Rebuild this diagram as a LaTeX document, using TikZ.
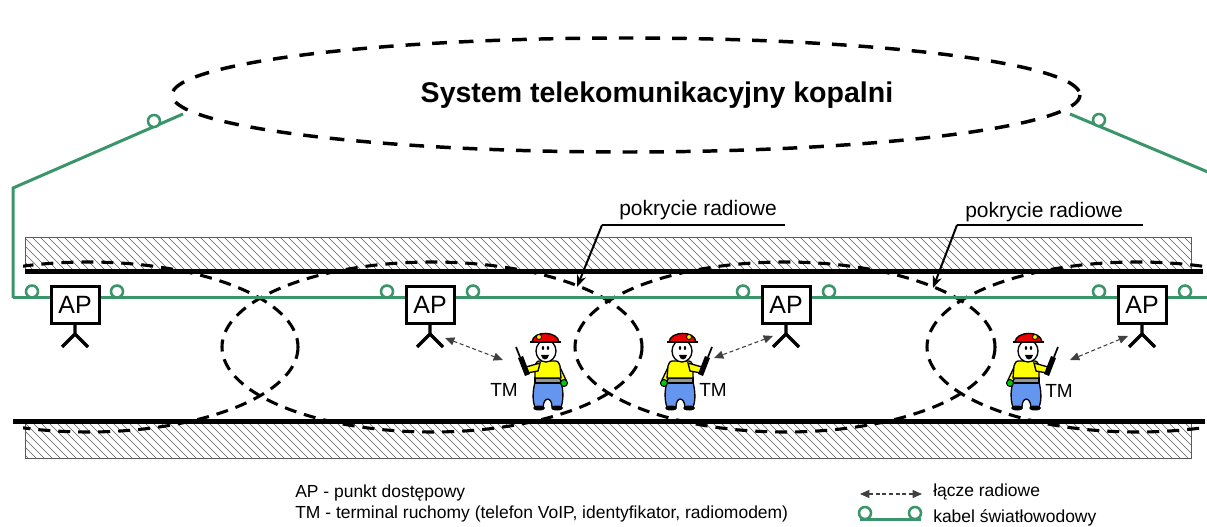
\documentclass[tikz,border=0pt]{standalone}
\usepackage{fontspec}
\setmainfont{Liberation Sans}
\usetikzlibrary{arrows.meta}
\definecolor{cablegreen}{RGB}{58,150,106}
\definecolor{helmetred}{RGB}{235,0,0}
\definecolor{shirtyellow}{RGB}{255,255,0}
\definecolor{pantsblue}{RGB}{100,150,240}
\definecolor{beltgrey}{RGB}{150,150,150}
\definecolor{glovegreen}{RGB}{0,200,0}
\definecolor{hatchgrey}{RGB}{90,90,90}
\tikzset{
  cable/.style={draw=cablegreen, line width=2.25pt},
  splice/.style={draw=cablegreen, fill=white, line width=1.9pt},
  wall/.style={line width=3.75pt},
  hatch/.style={draw=hatchgrey, line width=0.45pt},
  bandframe/.style={draw=hatchgrey, line width=0.6pt},
  coverage/.style={line width=2.3pt, dash pattern=on 9pt off 6pt},
  sysline/.style={line width=2.6pt, dash pattern=on 11pt off 9pt},
  apbox/.style={draw, fill=white, line width=2.25pt, minimum width=36pt,
    minimum height=27.75pt, inner sep=0pt, font=\fontsize{18.75pt}{20pt}\selectfont},
  antenna/.style={line width=2.6pt},
  radiolink/.style={draw=black!75, line width=0.8pt, densely dashed,
    {Triangle[length=7pt,width=6pt]}-{Triangle[length=7pt,width=6pt]}},
  pointer/.style={line width=1.5pt, -{Stealth[length=9pt,width=7pt]}},
  labeltext/.style={font=\fontsize{15.75pt}{17pt}\selectfont, inner sep=0pt},
  tmtext/.style={font=\fontsize{14.25pt}{16pt}\selectfont, inner sep=0pt},
  legendtext/.style={font=\fontsize{13.1pt}{15pt}\selectfont, inner sep=0pt},
  miner/.pic={
    % trousers
    \draw[line width=1pt, fill=pantsblue] (-13,0) .. controls (-16,10) and (-15,20) .. (-13,25)
      -- (-4,25) .. controls (-4,15) and (4,14) .. (5,25) -- (13,25)
      .. controls (16,18) and (15,8) .. (13,0) -- cycle;
    % boots
    \fill (-9,26) ellipse [x radius=6, y radius=2.5];
    \fill (9,26) ellipse [x radius=6, y radius=2.5];
    % belt
    \draw[line width=0.8pt, fill=beltgrey] (-13,-4) rectangle (13,1);
    % hanging arm with glove
    \draw[line width=1pt, fill=shirtyellow] (-10,-19) -- (-18,-2) -- (-13,-1) -- (-8,-11) -- cycle;
    \draw[line width=0.8pt, fill=glovegreen] (-16,1) circle [radius=3.5];
    % shirt
    \draw[line width=1pt, fill=shirtyellow] (-13,-4) -- (-12,-16) .. controls (-10,-21) .. (-5,-21)
      -- (6,-21) .. controls (11,-21) .. (13,-16) -- (13,-4) -- cycle;
    % raised arm
    \draw[line width=1pt, fill=shirtyellow] (8,-19) -- (22,-15) -- (21,-9) -- (10,-11) -- cycle;
    % walkie-talkie
    \fill (18,-8) -- (23,-6) -- (30,-24) -- (25,-26) -- cycle;
    \draw[line width=1.3pt] (28,-25) -- (32,-35);
    % head
    \draw[line width=1pt, fill=white] (2,-31) ellipse [x radius=10, y radius=11];
    \fill (0,-34) ellipse [x radius=1.2, y radius=2];
    \fill (5,-34) ellipse [x radius=1.2, y radius=2];
    \fill (-1,-27) .. controls (0,-21) and (6,-21) .. (7,-27) -- cycle;
    % helmet with lamp
    \draw[line width=1pt, fill=helmetred] (-11,-40) .. controls (-10,-51) and (15,-52) .. (16,-40) -- cycle;
    \draw[line width=1.2pt] (-13,-40) -- (18,-40);
    \draw[line width=0.6pt, fill=yellow] (9,-45) circle [radius=2.5];
  }
}
\begin{document}
\begin{tikzpicture}[x=0.75pt, y=-0.75pt]
\useasboundingbox (0,0) rectangle (1207,527);

% hatched rock bands
\begin{scope}
  \clip (25,237) rectangle (1191,272);
  \foreach \x in {-40,-32,...,1200} \draw[hatch] (\x,237) -- ++(36,36);
\end{scope}
\draw[bandframe] (25,272) -- (25,237) -- (1191,237) -- (1191,272);
\begin{scope}
  \clip (25,422) rectangle (1191,458);
  \foreach \x in {-40,-32,...,1200} \draw[hatch] (\x,422) -- ++(36,36);
\end{scope}
\draw[bandframe] (25,422) -- (25,458) -- (1191,458) -- (1191,422);

% tunnel walls
\draw[wall] (25,272) -- (1203,272);
\draw[wall] (13,421) -- (1205,421);

% radio coverage of each access point
\begin{scope}
  \clip (23,230) rectangle (1205,470);
  \foreach \cx in {88,432,785,1137}
    \draw[coverage] (\cx,347) ellipse [x radius=210, y radius=85];
\end{scope}

% mine telecommunication system
\draw[sysline] (626,95) ellipse [x radius=454, y radius=57];
\node[anchor=base, inner sep=0pt, font=\fontsize{21.4pt}{24pt}\selectfont\bfseries] (sys) at (657,103) {System telekomunikacyjny kopalni};
\coordinate (sysL) at (183,114);
\coordinate (sysR) at (1070,114);

% fibre-optic cable
\coordinate (cL) at (13,298);
\coordinate (cLup) at (13,188);
\coordinate (cR) at (1215,175);
\draw[cable] (cL) -- (cLup) -- (sysL);
\draw[cable] (sysR) -- (cR);
\draw[cable] (cL) -- (1210,298);
\draw[splice] (154,121) circle [radius=4.5pt];
\draw[splice] (1099,120) circle [radius=4.5pt];
\foreach \x in {32,117,387,473,743,829,1099,1185}
  \draw[splice] (\x,291.5) circle [radius=4.5pt];

% access points with antennas
\foreach \i/\x in {1/75,2/430,3/786,4/1142} {
  \node[apbox] (ap\i) at (\x,305) {AP};
  \draw[antenna] (ap\i.south) -- ++(0,9) coordinate (ant\i) -- ++(-13,13);
  \draw[antenna] (ant\i) -- ++(13,13);
}

% mobile terminals
\pic[xscale=-1] at (548,382) {miner};
\pic at (680,382) {miner};
\pic at (1026,382) {miner};
\node[tmtext] (tm1) at (504,390) {TM};
\node[tmtext] (tm2) at (713,390) {TM};
\node[tmtext] (tm3) at (1059,391) {TM};

% radio links
\coordinate (r2a) at (445,338);  \coordinate (r2b) at (503,360);
\coordinate (r3a) at (773,336);  \coordinate (r3b) at (714,358);
\coordinate (r4a) at (1128,336); \coordinate (r4b) at (1070,360);
\draw[radiolink] (r2a) -- (r2b);
\draw[radiolink] (r3a) -- (r3b);
\draw[radiolink] (r4a) -- (r4b);

% coverage labels
\node[labeltext, anchor=base west] (cov1) at (619,216) {pokrycie radiowe};
\coordinate (u1a) at (602,225); \coordinate (u1b) at (785,225); \coordinate (t1) at (577,287);
\draw[line width=1.5pt] (u1a) -- (u1b);
\draw[pointer] (u1a) -- (t1);
\node[labeltext, anchor=base west] (cov2) at (965,218) {pokrycie radiowe};
\coordinate (u2a) at (957,225); \coordinate (u2b) at (1143,225); \coordinate (t2) at (933,288);
\draw[line width=1.5pt] (u2a) -- (u2b);
\draw[pointer] (u2a) -- (t2);

% legend
\node[legendtext, anchor=base west] (legAP) at (295,497) {AP - punkt dostępowy};
\node[legendtext, anchor=base west] (legTM) at (295,518) {TM - terminal ruchomy (telefon VoIP, identyfikator, radiomodem)};
\coordinate (lra) at (860,494); \coordinate (lrb) at (922,494);
\draw[radiolink] (lra) -- (lrb);
\node[legendtext, anchor=base west] (legR) at (933,496) {łącze radiowe};
\coordinate (lca) at (860,519); \coordinate (lcb) at (921,519);
\draw[cable] (lca) -- (lcb);
\draw[splice] (865,513) circle [radius=4.5pt];
\draw[splice] (915,513) circle [radius=4.5pt];
\node[legendtext, anchor=base west] (legC) at (933,522) {kabel światłowodowy};
\end{tikzpicture}
\end{document}
